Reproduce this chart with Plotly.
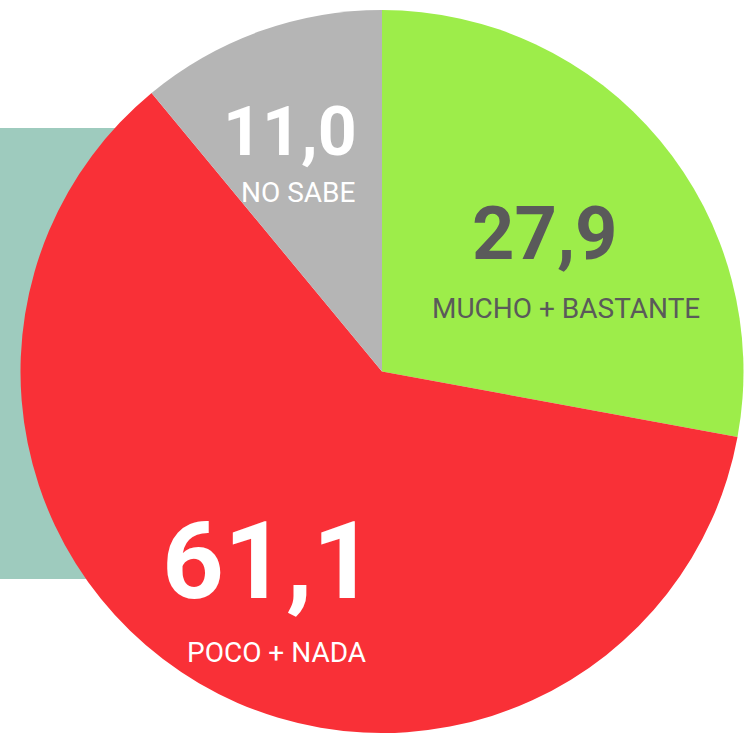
import plotly.graph_objects as go

categories = ["MUCHO + BASTANTE", "POCO + NADA", "NO SABE"]
values = [27.9, 61.1, 11.0]
value_labels = ["27,9", "61,1", "11,0"]
colors = ["#9ded4a", "#f93037", "#b5b5b5"]
value_text_colors = ["#5a5a5a", "#ffffff", "#ffffff"]
name_text_colors = ["#5a5a5a", "#ffffff", "#ffffff"]

W, H = 756, 733
FONT = "Liberation Sans Narrow, Arial Narrow, Roboto, sans-serif"

fig = go.Figure()
fig.add_trace(go.Pie(
    labels=categories,
    values=values,
    sort=False,
    direction="clockwise",
    rotation=0,
    marker=dict(colors=colors, line=dict(width=0)),
    textinfo="none",
    hoverinfo="label+value",
    showlegend=False,
    domain=dict(x=[20 / W, 744 / W], y=[0, 1 - 10 / H]),
))

# label positions in pixels (centre of value text, centre of name text), and sizes
pos = [
    ((545, 233), (566, 308), 74),
    ((268, 561), (276, 652), 108),
    ((290, 132), (298, 193), 68),
]
for i, ((vx, vy), (nx, ny), vs) in enumerate(pos):
    fig.add_annotation(x=vx / W, y=1 - vy / H, xref="paper", yref="paper",
                       text="<b>" + value_labels[i] + "</b>", showarrow=False,
                       xanchor="center", yanchor="middle",
                       font=dict(family=FONT, size=vs, color=value_text_colors[i]))
    fig.add_annotation(x=nx / W, y=1 - ny / H, xref="paper", yref="paper",
                       text=categories[i], showarrow=False,
                       xanchor="center", yanchor="middle",
                       font=dict(family=FONT, size=28, color=name_text_colors[i]))

fig.update_layout(
    width=W, height=H,
    margin=dict(l=0, r=0, t=0, b=0),
    paper_bgcolor="white",
    plot_bgcolor="white",
    shapes=[dict(type="rect", xref="paper", yref="paper",
                 x0=0, x1=130 / W, y0=1 - 579 / H, y1=1 - 128 / H,
                 fillcolor="#9ecbbe", line=dict(width=0), layer="below")],
)

fig.write_html("out.html", config={"displayModeBar": False},
               post_script="document.body.style.margin='0';")
